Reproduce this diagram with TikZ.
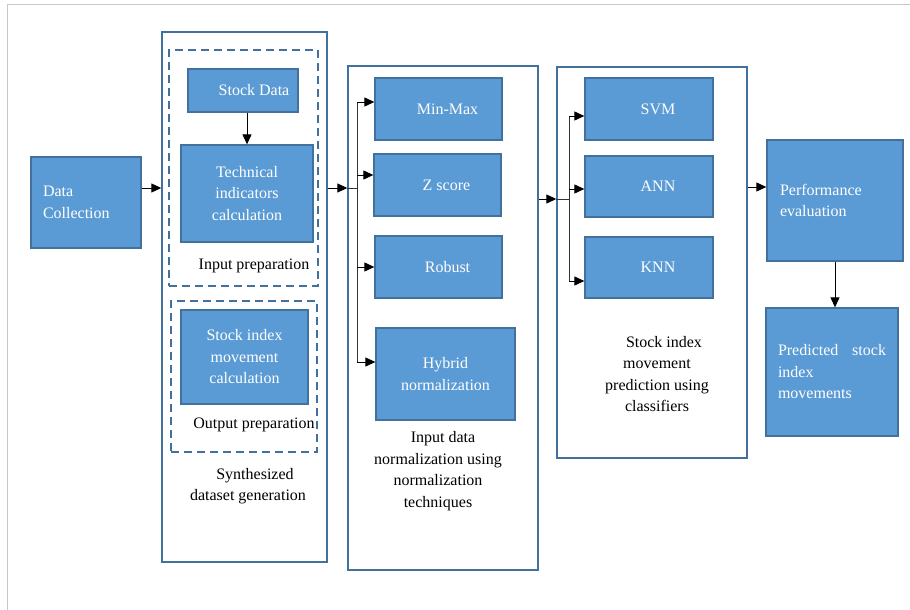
\documentclass[tikz,border=0pt]{standalone}
\usepackage{fontspec}
\setmainfont{Liberation Serif}
\usepackage{xcolor}
\usepackage{tikz}
\usetikzlibrary{arrows.meta,positioning,calc}
\definecolor{boxblue}{RGB}{91,155,213}
\definecolor{edgeblue}{RGB}{65,113,156}
\newcommand{\txt}{\fontsize{16}{21.5}\selectfont}

\begin{document}
\begin{tikzpicture}[x=1pt,y=-1pt,
  blk/.style={draw=edgeblue,line width=1.3pt,fill=boxblue,text=white,font=\txt,align=center,inner sep=0pt},
  grp/.style={draw=edgeblue,line width=1.4pt,fill=white,inner sep=0pt},
  dgrp/.style={draw=edgeblue,line width=1.4pt,dash pattern=on 8pt off 5pt,inner sep=0pt},
  captxt/.style={font=\txt,align=center,inner sep=0pt},
  arr/.style={-{Triangle[length=10pt,width=9pt]},line width=1pt,black},
  bus/.style={line width=1pt,black!80},
]
  \useasboundingbox (0,0) rectangle (910,610);
  \draw[black!22,line width=1.2pt] (7.5,610) -- (7.5,4.5) -- (910,4.5);

  % outer groups
  \node[grp,minimum width=165pt,minimum height=530pt] (syn) at (244.5,297) {};
  \node[grp,minimum width=190pt,minimum height=504pt] (norm) at (443,318) {};
  \node[grp,minimum width=190pt,minimum height=391pt] (cls) at (652,262.5) {};
  \node[dgrp,minimum width=149pt,minimum height=236pt] (inp) at (243.5,168) {};
  \node[dgrp,minimum width=146pt,minimum height=151pt] (outp) at (244,376.5) {};

  % blocks
  \node[blk,minimum width=110pt,minimum height=91pt,align=left,text width=86pt] (dc) at (86,202.5) {Data\\Collection};
  \node[blk,minimum width=110pt,minimum height=43pt] (sd) at (243,90.5) {\hspace{22pt}Stock Data};
  \node[blk,minimum width=132pt,minimum height=97pt] (tic) at (247,193.5) {Technical\\indicators\\calculation};
  \node[blk,minimum width=127pt,minimum height=94pt] (simc) at (244.5,357) {Stock index\\movement\\calculation};
  \node[blk,minimum width=127pt,minimum height=62pt] (mm) at (438.5,109) {\hspace{18pt}Min-Max};
  \node[blk,minimum width=127pt,minimum height=62pt] (zs) at (437.5,185) {\hspace{18pt}Z score};
  \node[blk,minimum width=127pt,minimum height=62pt] (rob) at (438.5,267) {\hspace{18pt}Robust};
  \node[blk,minimum width=139pt,minimum height=92pt] (hyb) at (445.5,374) {Hybrid\\normalization};
  \node[blk,minimum width=128pt,minimum height=62pt] (svm) at (649,109) {\hspace{18pt}SVM};
  \node[blk,minimum width=128pt,minimum height=61pt] (ann) at (649,186.5) {\hspace{18pt}ANN};
  \node[blk,minimum width=128pt,minimum height=61pt] (knn) at (649,267.5) {\hspace{18pt}KNN};
  \node[blk,minimum width=136pt,minimum height=121pt,align=left,text width=110pt] (perf) at (835,200.5) {Performance\\evaluation};
  \node[blk,minimum width=132pt,minimum height=128pt,align=left,text width=108pt] (pred) at (832,372) {Predicted\hfill stock\\index\\movements};

  % captions
  \node[captxt] (inpc) at (254,266) {Input preparation};
  \node[captxt] (outpc) at (254,425) {Output preparation};
  \node[captxt] (sync) at (248,486) {\hspace{14pt}Synthesized\\dataset generation};
  \node[captxt] (normc) at (438,471) {\hspace{10pt}Input data\\normalization using\\normalization\\techniques};
  \node[captxt] (clsc) at (657,374) {\hspace{14pt}Stock index\\movement\\prediction using\\classifiers};

  % bus joints
  \coordinate (lvA) at (0,188);
  \coordinate (nb) at (357,188);
  \coordinate (cb) at (569,199);

  \draw[arr] (dc.east |- lvA) -- (syn.west |- lvA);
  \draw[arr] (tic.north |- sd.south) -- (tic.north);
  \draw[arr] (syn.east |- lvA) -- (norm.west |- lvA);
  \draw[bus] (norm.west |- lvA) -- (nb);
  \draw[bus] (nb |- 0,102) -- (nb |- 0,362);
  \draw[arr] (nb |- 0,102) -- (mm.west |- 0,102);
  \draw[arr] (nb |- 0,175) -- (zs.west |- 0,175);
  \draw[arr] (nb |- rob) -- (rob.west);
  \draw[arr] (nb |- 0,362) -- (hyb.west |- 0,362);
  \draw[arr] (norm.east |- cb) -- (cls.west |- cb);
  \draw[bus] (cls.west |- cb) -- (cb);
  \draw[bus] (cb |- 0,116) -- (cb |- 0,281);
  \draw[arr] (cb |- 0,116) -- (svm.west |- 0,116);
  \draw[arr] (cb |- 0,189) -- (ann.west |- 0,189);
  \draw[arr] (cb |- 0,281) -- (knn.west |- 0,281);
  \draw[arr] (cls.east |- 0,187) -- (perf.west |- 0,187);
  \draw[arr] (perf.south) -- (perf.south |- pred.north);
\end{tikzpicture}
\end{document}
